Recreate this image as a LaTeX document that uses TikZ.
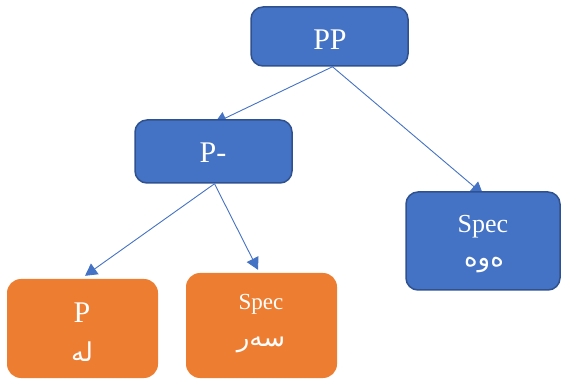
\documentclass[tikz,border=0pt]{standalone}
\usepackage{fontspec}
\setmainfont{Liberation Serif}
\newfontfamily\arabicfont[Script=Arabic]{DejaVu Sans}
\TeXXeTstate=1
\usetikzlibrary{arrows.meta,calc}
\pgfdeclarelayer{background}
\pgfsetlayers{background,main}
\definecolor{blueFill}{HTML}{4472C4}
\definecolor{blueLine}{HTML}{2F528F}
\definecolor{orangeFill}{HTML}{ED7D31}
\newcommand{\ar}[1]{{\arabicfont\fontsize{26}{28}\selectfont\beginR #1\endR}}
\begin{document}
\begin{tikzpicture}[x=1pt,y=-1pt,
  bluebox/.style={draw=blueLine, line width=1.5pt, fill=blueFill, rounded corners=12pt, inner sep=0pt},
  orangebox/.style={fill=orangeFill, rounded corners=14pt, inner sep=0pt},
  lbl/.style={text=white, inner sep=0pt, anchor=base},
  arlbl/.style={text=white, inner sep=0pt, anchor=center},
  conn/.style={draw=blueFill, line width=0.9pt, -{Triangle[length=12pt,width=13pt]}}]
\useasboundingbox (0,0) rectangle (562,379);
\node[bluebox, minimum width=157pt, minimum height=59pt] (PP) at (329.5,36.5) {};
\node[bluebox, minimum width=157pt, minimum height=63pt] (Pm) at (213.5,151.5) {};
\node[bluebox, minimum width=154pt, minimum height=98pt] (SpR) at (483,241) {};
\node[orangebox, minimum width=151pt, minimum height=99pt] (P) at (82.5,328.5) {};
\node[orangebox, minimum width=151pt, minimum height=105pt] (SpO) at (261.5,325.5) {};
\node[lbl] (tPP) at (330,50) {\fontsize{30}{32}\selectfont PP};
\node[lbl] (tPm) at (213,163) {\fontsize{30}{32}\selectfont P-};
\node[lbl] (tSpR) at (483,233) {\fontsize{26}{28}\selectfont Spec};
\node[arlbl] (aSpR) at (484,265) {\ar{ەوە}};
\node[lbl] (tP) at (82,323) {\fontsize{30}{32}\selectfont P};
\node[arlbl] (aP) at (82,352) {\ar{لە}};
\node[lbl] (tSpO) at (261,309) {\fontsize{23}{26}\selectfont Spec};
\node[arlbl] (aSpO) at (261,345) {\ar{سەر}};
\begin{pgfonlayer}{background}
\draw[conn] ($(PP.south)+(3,0)$) -- ($(Pm.north)+(1,4)$);
\draw[conn] ($(PP.south)+(3,0)$) -- ($(SpR.north)+(0,3)$);
\end{pgfonlayer}
\draw[conn] ($(Pm.south)+(1,0)$) -- ($(P.north)+(2.5,-3)$);
\draw[conn] ($(Pm.south)+(1,0)$) -- ($(SpO.north)+(-3.5,-3)$);
\end{tikzpicture}
\end{document}
